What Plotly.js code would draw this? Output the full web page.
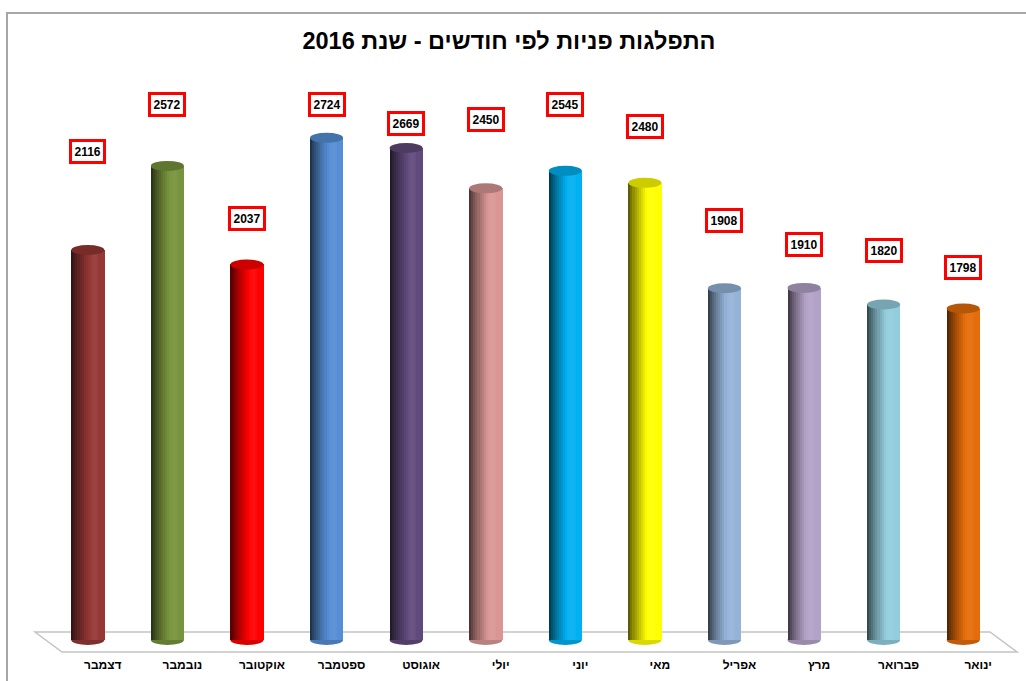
<!DOCTYPE html>
<html>
<head>
<meta charset="utf-8">
<script src="https://cdn.plot.ly/plotly-3.0.1.min.js"></script>
<style>html,body{margin:0;padding:0;background:#fff;}#chart{width:1026px;height:681px;}</style>
</head>
<body>
<div id="chart"></div>
<script>
// ---- data ----
const months = ["דצמבר","נובמבר","אוקטובר","ספטמבר","אוגוסט","יולי","יוני","מאי","אפריל","מרץ","פברואר","ינואר"];
const requests = [2116, 2572, 2037, 2724, 2669, 2450, 2545, 2480, 1908, 1910, 1820, 1798];
const barColors = ["#953735","#77933C","#FF0000","#558ED5","#604A7B","#D99694","#00B0F0","#FFFF00","#95B3D7","#B3A2C7","#93CDDD","#E46C0A"];
const chartTitle = "התפלגות פניות לפי חודשים - שנת 2016";

// ---- layout helpers (positions / styles) ----
const labelLift = [98, 61, 46, 33, 25, 69, 66, 56, 68, 43, 54, 41]; // px above bar top
const W = 1026, H = 681;
const M = {l: 48, r: 23, t: 87, b: 30};
const PW = W - M.l - M.r, PH = H - M.t - M.b;
const px = x => (x - M.l) / PW;
const py = y => (H - M.b - y) / PH;

function hexToRgb(h){h=h.replace('#','');return [parseInt(h.substr(0,2),16),parseInt(h.substr(2,2),16),parseInt(h.substr(4,2),16)];}
function shade(hex, f){
  const c = hexToRgb(hex);
  let r;
  if (f <= 1) r = c.map(v => Math.round(v * f));
  else r = c.map(v => Math.round(v + (255 - v) * (f - 1)));
  return 'rgb(' + r.join(',') + ')';
}

const barW = 0.415;
const N = 16;
const xs = months.map((m, i) => i);
const traces = [];
for (let s = 0; s < N; s++) {
  const t = (s + 0.5) / N;
  let f;
  if (t < 0.55) f = 0.28 + 0.72 * Math.pow(t / 0.55, 0.75);
  else if (t < 0.85) f = 1 + 0.06 * Math.sin((t - 0.55) / 0.3 * Math.PI);
  else f = 1.0;
  traces.push({
    type: 'bar',
    x: xs,
    y: requests,
    width: barW / N + 0.004,
    offset: -barW / 2 + s * barW / N,
    marker: {color: barColors.map(c => shade(c, f)), line: {width: 0}},
    hoverinfo: 'skip',
    showlegend: false
  });
}

const shapes = [];
// outer chart border
shapes.push({type: 'rect', xref: 'paper', yref: 'paper', x0: px(7), x1: px(1040), y0: py(13), y1: py(700),
  line: {color: '#a6a6a6', width: 2}, fillcolor: 'rgba(0,0,0,0)', layer: 'below'});
// floor
shapes.push({type: 'path', xref: 'paper', yref: 'paper',
  path: `M ${px(35)},${py(632)} L ${px(990)},${py(632)} L ${px(1017)},${py(652)} L ${px(62)},${py(652)} Z`,
  line: {color: '#c4c4c4', width: 1.5}, fillcolor: '#ffffff', layer: 'below'});
// bottom ellipses and top caps
requests.forEach((v, i) => {
  shapes.push({type: 'circle', xref: 'x', yref: 'y', ysizemode: 'pixel', yanchor: 0, y0: -5, y1: 5,
    x0: i - barW / 2, x1: i + barW / 2, fillcolor: shade(barColors[i], 0.85), line: {width: 0}, layer: 'below'});
  shapes.push({type: 'circle', xref: 'x', yref: 'y', ysizemode: 'pixel', yanchor: v, y0: -5, y1: 5,
    x0: i - barW / 2, x1: i + barW / 2, fillcolor: shade(barColors[i], 0.8), line: {width: 0}, layer: 'above'});
});

const annotations = requests.map((v, i) => ({
  x: i, y: v, xref: 'x', yref: 'y', text: '<b>' + v + '</b>', showarrow: false,
  yshift: labelLift[i], yanchor: 'middle', xanchor: 'center',
  font: {family: 'Liberation Sans, Arial, sans-serif', size: 12, color: '#000'},
  bgcolor: '#ffffff', bordercolor: '#ff0000', borderwidth: 3, borderpad: 2.5
}));

const layout = {
  width: W, height: H,
  margin: M,
  paper_bgcolor: '#ffffff',
  plot_bgcolor: 'rgba(0,0,0,0)',
  barmode: 'overlay',
  bargap: 0,
  showlegend: false,
  title: {text: '<b>\u202B' + chartTitle + '\u202C</b>', xref: 'container', yref: 'container',
    x: 509 / W, y: 1 - 41 / H, xanchor: 'center', yanchor: 'middle',
    font: {family: 'Liberation Sans, Arial, sans-serif', size: 23.5, color: '#000'}},
  xaxis: {type: 'category', tickmode: 'array', tickvals: xs, ticktext: months.map(m => '<b>' + m + '</b>'),
    range: [-0.5, 11.5], showgrid: false, zeroline: false, showline: false, ticks: '',
    ticklabelshift: 15, ticklabelstandoff: 5,
    tickfont: {family: 'Liberation Sans, Arial, sans-serif', size: 12, color: '#000', weight: 'bold'}, fixedrange: true},
  yaxis: {range: [-60, 3000], visible: false, showgrid: false, zeroline: false, fixedrange: true},
  shapes: shapes,
  annotations: annotations
};

Plotly.newPlot('chart', traces, layout, {displayModeBar: false, staticPlot: true});
</script>
</body>
</html>
